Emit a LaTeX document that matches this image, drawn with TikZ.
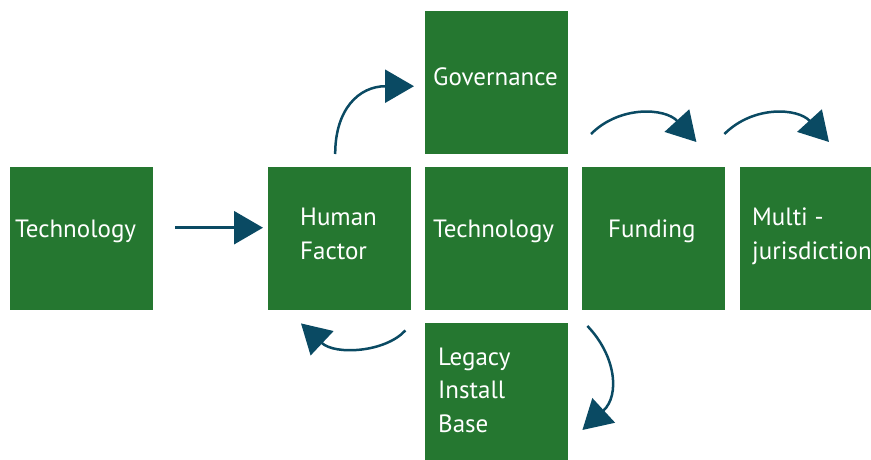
\documentclass[tikz,border=0pt]{standalone}
\usepackage{fontspec}
\setmainfont{PT Sans}
\usetikzlibrary{arrows.meta,calc}
\definecolor{boxgreen}{RGB}{37,119,48}
\definecolor{arrowblue}{RGB}{10,74,99}
\tikzset{
  box/.style={fill=boxgreen, draw=none, minimum width=143pt, minimum height=143pt, inner sep=0pt, anchor=north west},
  lbl/.style={text=white, font=\fontsize{25}{30}\selectfont, inner sep=0pt, anchor=base west},
  arr/.style={draw=arrowblue, line width=2.5pt, -{Triangle[length=29pt,width=33pt]}}
}
\begin{document}
\begin{tikzpicture}[x=1pt,y=-1pt]
\useasboundingbox (0,0) rectangle (871,459);
\clip (0,0) rectangle (871,459);
\node[box] (tech1) at (10,167) {};
\node[box] (human) at (268,167) {};
\node[box] (gov) at (425,11) {};
\node[box] (tech2) at (425,167) {};
\node[box] (fund) at (582,167) {};
\node[box] (multi) at (740,167) {};
\node[box] (legacy) at (425,323) {};

\node[lbl] (ttech1) at (15,237) {Technology};
\node[lbl] (thuman1) at (300,225) {Human};
\node[lbl] (thuman2) at (300,259) {Factor};
\node[lbl] (tgov) at (433,85) {Governance};
\node[lbl] (ttech2) at (433,237) {Technology};
\node[lbl] (tfund) at (608,237) {Funding};
\node[lbl] (tmulti1) at (752,225) {Multi -};
\node[lbl] (tmulti2) at (752,259) {jurisdiction};
\node[lbl] (tleg1) at (438,365) {Legacy};
\node[lbl] (tleg2) at (438,398) {Install};
\node[lbl] (tleg3) at (438,432) {Base};

\draw[arr] ($(tech1.east)+(22,-11)$) -- ($(human.west)+(-5,-11)$);
\draw[arr] ($(human.north)+(-4.5,-13)$) .. controls +(0,-45) and +(-55,0) .. ($(gov.west)+(-11,3.5)$);
\draw[arr] ($(fund.north west)+(9,-33)$) .. controls +(29,-29) and +(-31,-34) .. ($(fund.north east)+(-29,-25)$);
\draw[arr] ($(fund.north east)+(-1,-33)$) .. controls +(29,-29) and +(-31,-34) .. ($(multi.north west)+(89,-25)$);
\draw[arr] ($(human.south east)+(-6,20)$) .. controls +(-20,22) and +(34,32) .. ($(human.south west)+(33,13)$);
\draw[arr] ($(legacy.north east)+(19,3)$) .. controls +(28,29) and +(38,-35) .. ($(legacy.north east)+(14,107)$);
\end{tikzpicture}
\end{document}
